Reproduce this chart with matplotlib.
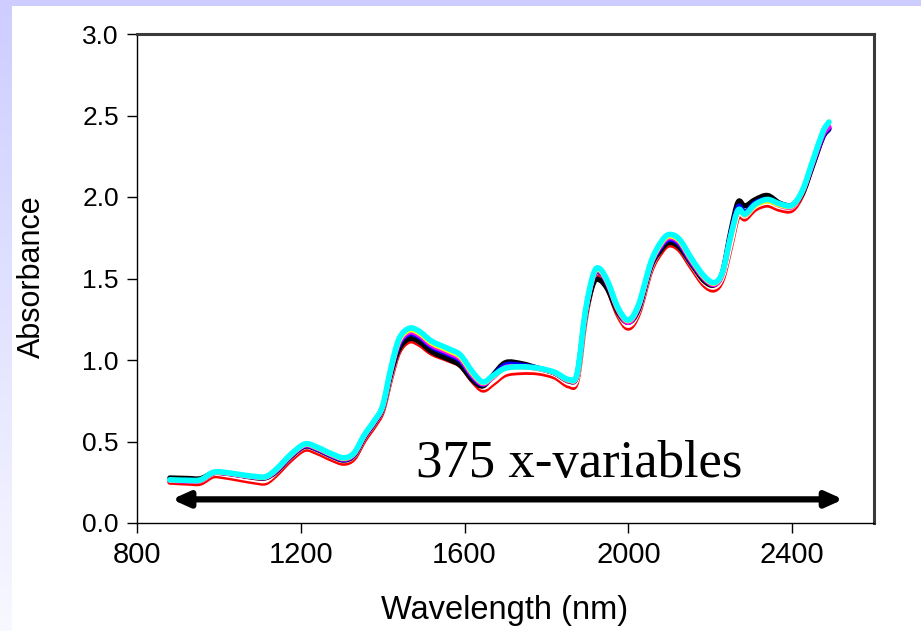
import numpy as np
import matplotlib
matplotlib.use("Agg")
import matplotlib.pyplot as plt
from matplotlib.patches import Rectangle, PathPatch
from matplotlib.path import Path

# ---------------- data ----------------
wavelength = [880, 925, 955, 985, 1010, 1050, 1090, 1115, 1140, 1175,
              1210, 1240, 1275, 1305, 1330, 1355, 1380, 1400, 1420, 1440,
              1465, 1490, 1520, 1560, 1590, 1620, 1645, 1670, 1700, 1740,
              1780, 1820, 1855, 1875, 1895, 1915, 1930, 1950, 1975, 2000,
              2025, 2055, 2080, 2100, 2125, 2155, 2185, 2210, 2230, 2250,
              2268, 2285, 2310, 2340, 2370, 2400, 2425, 2450, 2475, 2490]

red = [0.250, 0.244, 0.244, 0.287, 0.284, 0.267, 0.250, 0.247, 0.296, 0.386,
       0.451, 0.431, 0.391, 0.366, 0.396, 0.506, 0.596, 0.686, 0.885, 1.050,
       1.115, 1.095, 1.040, 1.000, 0.965, 0.870, 0.815, 0.855, 0.910, 0.923,
       0.920, 0.895, 0.840, 0.875, 1.245, 1.485, 1.525, 1.435, 1.275, 1.195,
       1.285, 1.545, 1.660, 1.705, 1.675, 1.565, 1.460, 1.430, 1.495, 1.695,
       1.880, 1.865, 1.925, 1.950, 1.923, 1.920, 2.015, 2.195, 2.375, 2.425]

white = [0.265, 0.259, 0.259, 0.302, 0.299, 0.282, 0.265, 0.262, 0.312, 0.402,
         0.467, 0.447, 0.407, 0.382, 0.412, 0.522, 0.612, 0.702, 0.902, 1.067,
         1.132, 1.112, 1.057, 1.017, 0.982, 0.887, 0.832, 0.872, 0.927, 0.940,
         0.937, 0.912, 0.857, 0.892, 1.262, 1.502, 1.542, 1.452, 1.292, 1.212,
         1.302, 1.562, 1.677, 1.722, 1.692, 1.582, 1.477, 1.447, 1.512, 1.712,
         1.897, 1.882, 1.942, 1.967, 1.940, 1.937, 2.032, 2.212, 2.392, 2.442]

black = [0.277, 0.274, 0.273, 0.307, 0.307, 0.293, 0.277, 0.277, 0.315, 0.405,
         0.470, 0.450, 0.410, 0.385, 0.415, 0.525, 0.615, 0.705, 0.910, 1.065,
         1.130, 1.110, 1.050, 1.005, 0.965, 0.875, 0.840, 0.910, 0.985, 0.978,
         0.950, 0.920, 0.870, 0.910, 1.270, 1.470, 1.490, 1.430, 1.290, 1.230,
         1.310, 1.570, 1.675, 1.720, 1.690, 1.585, 1.485, 1.460, 1.540, 1.790,
         1.970, 1.945, 1.985, 2.010, 1.963, 1.950, 2.020, 2.190, 2.365, 2.415]

blue = [0.262, 0.259, 0.262, 0.307, 0.309, 0.295, 0.282, 0.282, 0.318, 0.408,
        0.473, 0.453, 0.413, 0.388, 0.418, 0.528, 0.618, 0.708, 0.925, 1.095,
        1.160, 1.140, 1.080, 1.035, 0.995, 0.895, 0.850, 0.905, 0.970, 0.968,
        0.950, 0.920, 0.875, 0.915, 1.285, 1.510, 1.540, 1.460, 1.305, 1.235,
        1.320, 1.580, 1.695, 1.740, 1.710, 1.595, 1.500, 1.465, 1.535, 1.770,
        1.940, 1.905, 1.965, 1.985, 1.958, 1.950, 2.030, 2.200, 2.370, 2.420]

magenta = [0.260, 0.257, 0.260, 0.305, 0.307, 0.293, 0.280, 0.280, 0.322, 0.412,
           0.477, 0.457, 0.417, 0.392, 0.422, 0.532, 0.622, 0.712, 0.932, 1.105,
           1.170, 1.150, 1.090, 1.045, 1.005, 0.903, 0.853, 0.895, 0.955, 0.958,
           0.947, 0.920, 0.872, 0.912, 1.288, 1.515, 1.545, 1.465, 1.305, 1.230,
           1.325, 1.585, 1.705, 1.750, 1.720, 1.602, 1.500, 1.463, 1.530, 1.760,
           1.920, 1.890, 1.950, 1.977, 1.948, 1.940, 2.030, 2.205, 2.380, 2.430]

yellow = [0.263, 0.260, 0.263, 0.308, 0.310, 0.296, 0.283, 0.283, 0.326, 0.416,
          0.481, 0.461, 0.421, 0.396, 0.426, 0.536, 0.626, 0.716, 0.940, 1.118,
          1.183, 1.163, 1.103, 1.058, 1.018, 0.915, 0.860, 0.900, 0.950, 0.958,
          0.948, 0.922, 0.876, 0.916, 1.292, 1.522, 1.552, 1.472, 1.312, 1.240,
          1.332, 1.592, 1.715, 1.760, 1.730, 1.612, 1.508, 1.470, 1.535, 1.755,
          1.915, 1.890, 1.948, 1.975, 1.950, 1.945, 2.035, 2.215, 2.398, 2.460]

cyan = [0.265, 0.262, 0.265, 0.310, 0.312, 0.298, 0.285, 0.285, 0.330, 0.420,
        0.485, 0.465, 0.425, 0.400, 0.430, 0.540, 0.630, 0.720, 0.950, 1.130,
        1.195, 1.175, 1.115, 1.070, 1.030, 0.925, 0.865, 0.905, 0.950, 0.958,
        0.950, 0.925, 0.880, 0.920, 1.300, 1.530, 1.560, 1.480, 1.320, 1.245,
        1.340, 1.600, 1.725, 1.770, 1.740, 1.620, 1.515, 1.475, 1.540, 1.760,
        1.920, 1.895, 1.955, 1.985, 1.958, 1.950, 2.040, 2.220, 2.400, 2.460]

series = [("red", red), ("white", white), ("black", black), ("blue", blue),
          ("magenta", magenta), ("yellow", yellow), ("#00FFFF", cyan)]

x_ticks = [800, 1200, 1600, 2000, 2400]
y_ticks = [0.0, 0.5, 1.0, 1.5, 2.0, 2.5, 3.0]
arrow_span = (885, 2525)
arrow_level = 0.145
annotation = "375 x-variables"


def smooth_path(xs, ys):
    """Smooth line (Bezier segments) passing through every data point."""
    p = np.column_stack([xs, ys]).astype(float)
    n = len(p)
    tang = np.zeros_like(p)
    tang[1:-1] = (p[2:] - p[:-2]) / 2.0
    tang[0] = p[1] - p[0]
    tang[-1] = p[-1] - p[-2]
    verts = [p[0]]
    codes = [Path.MOVETO]
    for i in range(n - 1):
        c1 = p[i] + tang[i] / 3.0
        c2 = p[i + 1] - tang[i + 1] / 3.0
        verts += [c1, c2, p[i + 1]]
        codes += [Path.CURVE4] * 3
    return Path(np.array(verts), codes)


# ---------------- figure ----------------
W, H = 921, 631
fig = plt.figure(figsize=(W / 100, H / 100), dpi=100, facecolor="white")

# lavender frame (top band + fading left strip)
bg = fig.add_axes([0, 0, 11 / W, 1], zorder=-5)
grad = np.linspace(0, 1, 256).reshape(-1, 1)
top_c = np.array([205, 205, 255]) / 255
bot_c = np.array([248, 248, 255]) / 255
img = top_c[None, None, :] * (1 - grad[:, :, None]) + bot_c[None, None, :] * grad[:, :, None]
bg.imshow(img, aspect="auto", extent=[0, 1, 0, 1])
bg.set_axis_off()
fig.patches.append(Rectangle((0, 1 - 6 / H), 1, 6 / H, transform=fig.transFigure,
                             facecolor="#CDCDFF", edgecolor="none", zorder=-4))

ax = fig.add_axes([137 / W, (H - 523) / H, (874 - 137) / W, (523 - 34) / H])

for color, vals in series:
    lw = 4.0 if color == "#00FFFF" else 3.6
    patch = PathPatch(smooth_path(wavelength, vals), facecolor="none",
                      edgecolor=color, lw=lw, joinstyle="round", capstyle="round")
    ax.add_patch(patch)

ax.set_xlim(800, 2600)
ax.set_ylim(0, 3.0)
ax.set_xticks(x_ticks)
ax.set_yticks(y_ticks)
ax.set_yticklabels([f"{v:.1f}" for v in y_ticks])

sans = ["Liberation Sans", "DejaVu Sans"]
for lab in ax.get_xticklabels():
    lab.set_family(sans)
    lab.set_fontsize(21)
for lab in ax.get_yticklabels():
    lab.set_family(sans)
    lab.set_fontsize(19)

ax.tick_params(axis="both", direction="out", length=7, width=1, color="black")
ax.tick_params(axis="x", pad=6)
ax.tick_params(axis="y", pad=6)

for side in ("left", "bottom"):
    ax.spines[side].set_color("black")
    ax.spines[side].set_linewidth(1.0)
for side in ("top", "right"):
    ax.spines[side].set_color("#3a3a3a")
    ax.spines[side].set_linewidth(2.2)

fig.text(505 / W, 1 - 611 / H, "Wavelength (nm)", family=sans, fontsize=23.5,
         ha="center", va="center")
fig.text(32 / W, 1 - 277 / H, "Absorbance", family=sans, fontsize=22,
         rotation=90, ha="center", va="center")

ax.annotate("", xy=(arrow_span[1], arrow_level), xytext=(arrow_span[0], arrow_level),
            arrowprops=dict(arrowstyle="<|-|>,head_length=1.0,head_width=0.45",
                            lw=4.5, color="black", shrinkA=0, shrinkB=0))
ax.text(1880, 0.28, annotation, family=["Liberation Serif", "DejaVu Serif"],
        fontsize=38, ha="center", va="baseline")

fig.savefig("out.png", dpi=100, facecolor="white")
